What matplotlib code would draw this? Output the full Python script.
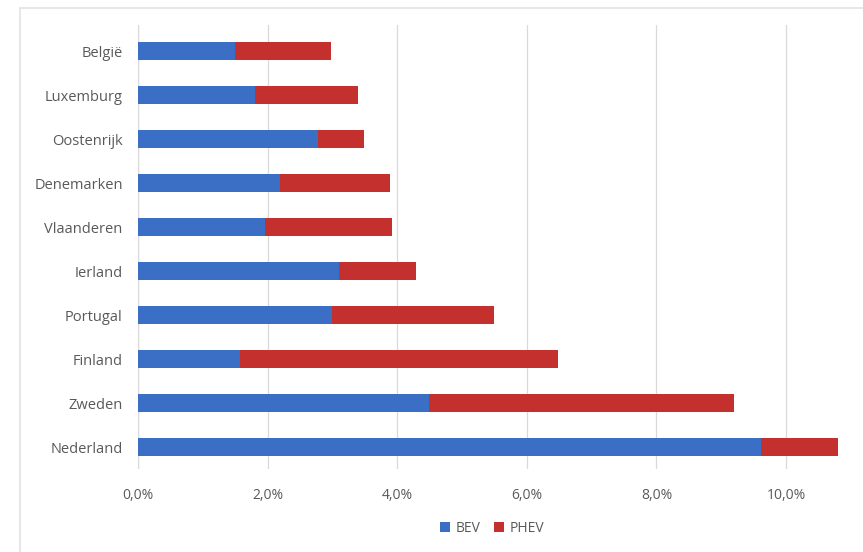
import matplotlib
matplotlib.use("Agg")
import matplotlib.pyplot as plt
from matplotlib.lines import Line2D
from matplotlib.ticker import FuncFormatter

countries = ["België", "Luxemburg", "Oostenrijk", "Denemarken", "Vlaanderen",
             "Ierland", "Portugal", "Finland", "Zweden", "Nederland"]
bev = [1.50, 1.80, 2.78, 2.19, 1.96, 3.10, 2.99, 1.57, 4.49, 9.61]
phev = [1.48, 1.60, 0.71, 1.70, 1.96, 1.19, 2.50, 4.91, 4.71, 1.19]
xticks = [0, 2, 4, 6, 8, 10]

blue = "#3B6FC6"
red = "#C3302E"
txt = "#595959"

plt.rcParams['font.family'] = ['Open Sans', 'DejaVu Sans']

W, H = 863, 552
fig = plt.figure(figsize=(8.63, 5.52), dpi=100)
fig.lines.append(Line2D([20/W, 1], [1 - 8/H, 1 - 8/H], transform=fig.transFigure,
                        color="#E3E3E3", linewidth=1.2))
fig.lines.append(Line2D([20/W, 20/W], [0, 1 - 8/H], transform=fig.transFigure,
                        color="#E3E3E3", linewidth=1.2))

left, right, top, bottom = 138, 863, 25, 469
ax = fig.add_axes([left/W, 1 - bottom/H, (right-left)/W, (bottom-top)/H])

y = list(range(len(countries)))
ax.barh(y, bev, height=0.41, color=blue, label="BEV", zorder=3)
ax.barh(y, phev, left=bev, height=0.41, color=red, label="PHEV", zorder=3)

ax.set_xlim(0, (right-left)/64.8)
ax.set_ylim(len(countries) - 0.5, -0.6)
ax.set_yticks(y)
ax.set_yticklabels(countries, fontsize=10.5, color=txt)
ax.set_xticks(xticks)
ax.xaxis.set_major_formatter(FuncFormatter(lambda v, p: f"{v:.1f}%".replace(".", ",")))
ax.tick_params(axis='x', labelsize=10, colors=txt, length=0, pad=14)
ax.tick_params(axis='y', length=0, pad=11)
ax.grid(axis='x', color="#D9D9D9", linewidth=0.9, zorder=0)
for s in ax.spines.values():
    s.set_visible(False)
ax.axvline(0, color="#D9D9D9", linewidth=0.9, zorder=1)

fig.legend(loc="center", bbox_to_anchor=(492/W, 1 - 528/H), ncol=2, frameon=False,
           fontsize=10, handlelength=0.7, handleheight=0.7, columnspacing=1.0,
           handletextpad=0.4, labelcolor=txt)

fig.savefig("out.png", dpi=100)
